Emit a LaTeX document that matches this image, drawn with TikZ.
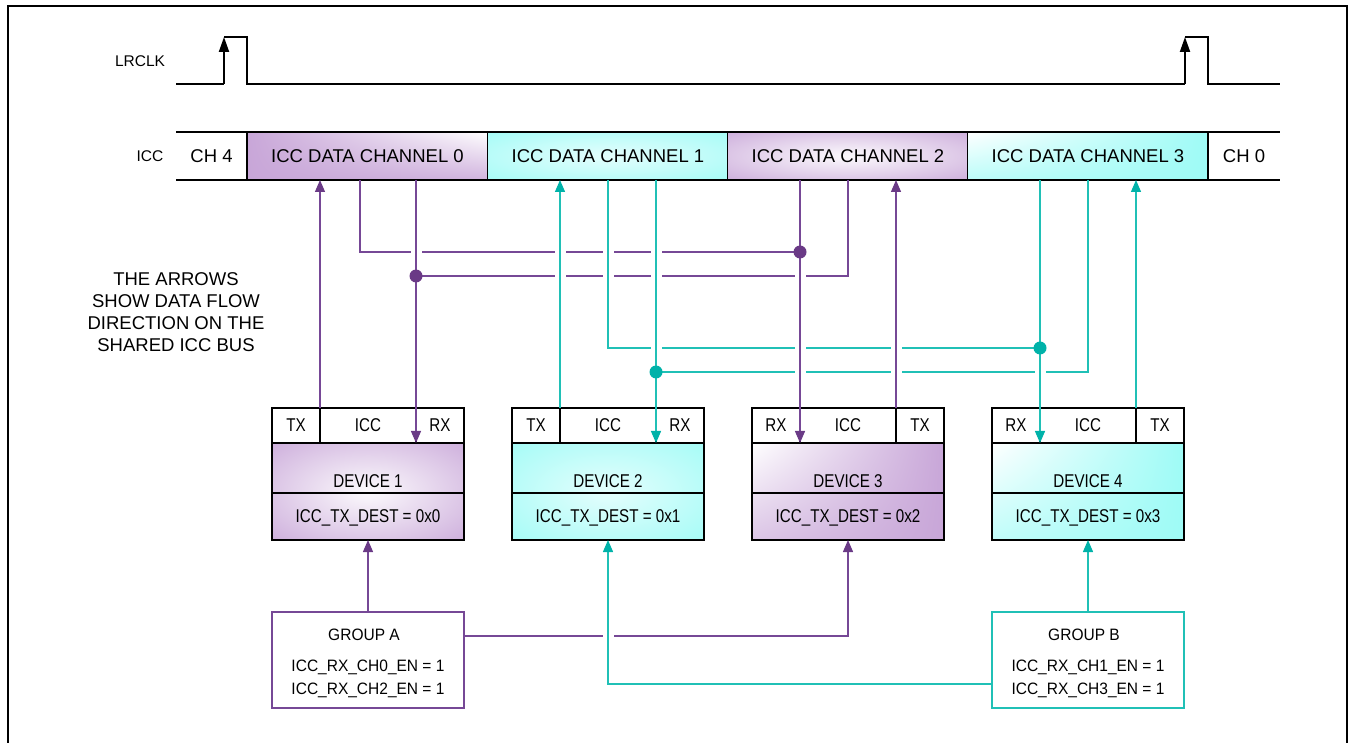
\documentclass[tikz,border=0pt]{standalone}
\usepackage{fontspec}
\setmainfont{Liberation Sans}
\newfontfamily\condfont[FakeStretch=0.82]{Liberation Sans}
\newfontfamily\grpfont[FakeStretch=0.94]{Liberation Sans}
\usetikzlibrary{arrows.meta,calc,shadings}
\definecolor{purpF}{RGB}{200,166,216}
\definecolor{cyanF}{RGB}{158,251,246}
\definecolor{purpL}{RGB}{118,72,150}
\definecolor{purpD}{RGB}{106,58,134}
\definecolor{tealL}{RGB}{32,192,182}
\definecolor{tealD}{RGB}{0,178,169}
\pgfdeclareradialshading{radP}{\pgfpoint{0bp}{0bp}}{color(0bp)=(white!92!purpF); color(4bp)=(white!85!purpF); color(40bp)=(purpF); color(75bp)=(purpF)}
\pgfdeclareradialshading{radC}{\pgfpoint{0bp}{0bp}}{color(0bp)=(white!70!cyanF); color(4bp)=(white!65!cyanF); color(40bp)=(cyanF); color(75bp)=(cyanF)}
\newcommand\mygapx[2]{%
  \fill[white] ($(#1)+(-5.5,-3.2)$) rectangle ($(#1)+(5.5,3.2)$);
  \draw[#2, line width=1.3pt] ($(#1)+(0,-4.5)$) -- ($(#1)+(0,4.5)$);}
\tikzset{
  bx/.style={line width=1.6pt, draw=black},
  chbox/.style={minimum width=241pt, minimum height=48pt, inner sep=0pt, outer sep=0pt, font=\fontsize{18.5}{22}\selectfont},
  cell/.style={draw=black, line width=1.5pt, fill=white, minimum height=35pt, inner sep=0pt, outer sep=0pt, font=\condfont\fontsize{18.5}{20}\selectfont},
  smallcell/.style={cell, minimum width=48pt},
  midcell/.style={cell, minimum width=96pt},
  devbody/.style={draw=black, line width=1.5pt, minimum width=192pt, minimum height=97pt, inner sep=0pt, outer sep=0pt},
  devtxt/.style={inner sep=0pt, text depth=0pt, font=\condfont\fontsize{18.5}{20}\selectfont},
  grpbox/.style={line width=1.2pt, minimum width=192pt, minimum height=96pt, inner sep=0pt, outer sep=0pt},
  grptxt/.style={inner sep=0pt, text depth=0pt, font=\grpfont\fontsize{16.5}{20}\selectfont},
  lbl/.style={inner sep=0pt, text depth=0pt, font=\fontsize{15.5}{18}\selectfont},
  pcon/.style={draw=purpL, line width=1.3pt},
  tcon/.style={draw=tealL, line width=1.3pt},
  parr/.style={pcon, -{Triangle[length=12pt,width=10pt,color=purpD]}},
  tarr/.style={tcon, -{Triangle[length=12pt,width=10pt,color=tealD]}},
  clk/.style={draw=black, line width=1.4pt},
}
\begin{document}
\begin{tikzpicture}[x=1pt,y=-1pt]
\useasboundingbox (0,0) rectangle (1353,743);
% frame
\draw[line width=1.8pt] (8,745) -- (8,6) -- (1347,6) -- (1347,745);

% LRCLK
\node[lbl] (lrlbl) at (140,61) {LRCLK};
\coordinate (lr0) at (176,84);
\coordinate (lr1) at (224,84);
\coordinate (lr2) at (224,37);
\coordinate (lr3) at (247,37);
\coordinate (lr4) at (247,84);
\coordinate (lr5) at (1185,84);
\coordinate (lr6) at (1185,37);
\coordinate (lr7) at (1208,37);
\coordinate (lr8) at (1208,84);
\coordinate (lr9) at (1280,84);
\draw[clk] (lr0) -- (lr1);
\draw[clk] (lr2) -- (lr3) -- (lr4) -- (lr5);
\draw[clk] (lr6) -- (lr7) -- (lr8) -- (lr9);
\draw[clk, line width=2pt, -{Triangle[length=15pt,width=10pt]}] (lr1) -- (lr2);
\draw[clk, line width=2pt, -{Triangle[length=15pt,width=10pt]}] (lr5) -- (lr6);

% ICC row
\node[lbl] (icclbl) at (150,156) {ICC};
\node[chbox, minimum width=71pt] (ch4) at (211.5,156) {CH 4};
\node[chbox, upper left=purpF, lower left=purpF, upper right=white, lower right=white!15!purpF] (ch0) at (367.5,156) {ICC DATA CHANNEL 0};
\node[chbox, shade, shading=radC] (ch1) at (608,156) {ICC DATA CHANNEL 1};
\node[chbox, shade, shading=radP] (ch2) at (848,156) {ICC DATA CHANNEL 2};
\node[chbox, upper left=white, lower left=white!30!cyanF, upper right=cyanF, lower right=cyanF] (ch3) at (1088,156) {ICC DATA CHANNEL 3};
\node[chbox, minimum width=72pt] (chz) at (1244,156) {CH 0};
\draw[bx] (ch4.north west) -- (chz.north east);
\draw[bx] (ch4.south west) -- (chz.south east);
\draw[bx] (ch0.north west) -- (ch0.south west);
\draw[bx] (ch1.north west) -- (ch1.south west);
\draw[bx] (ch2.north west) -- (ch2.south west);
\draw[bx] (ch3.north west) -- (ch3.south west);
\draw[bx] (chz.north west) -- (chz.south west);

% note
\node[align=center, inner sep=0pt, font=\fontsize{18.5}{22}\selectfont] (note) at (176,312) {THE ARROWS\\SHOW DATA FLOW\\DIRECTION ON THE\\SHARED ICC BUS};

% Device 1
\node[devbody, shade, shading=radP] (d1b) at (368,491.5) {};
\draw[bx, line width=1.5pt] (272,493) -- (464,493);
\node[devtxt] (d1n) at (368,481) {DEVICE 1};
\node[devtxt] (d1d) at (368,516.5) {ICC\_TX\_DEST = 0x0};
\node[smallcell] (d1tx) at (296,425.5) {TX};
\node[midcell] (d1icc) at (368,425.5) {ICC};
\node[smallcell] (d1rx) at (440,425.5) {RX};
% Device 2
\node[devbody, shade, shading=radC] (d2b) at (608,491.5) {};
\draw[bx, line width=1.5pt] (512,493) -- (704,493);
\node[devtxt] (d2n) at (608,481) {DEVICE 2};
\node[devtxt] (d2d) at (608,516.5) {ICC\_TX\_DEST = 0x1};
\node[smallcell] (d2tx) at (536,425.5) {TX};
\node[midcell] (d2icc) at (608,425.5) {ICC};
\node[smallcell] (d2rx) at (680,425.5) {RX};
% Device 3
\node[devbody, upper left=white, upper right=purpF, lower left=white!35!purpF, lower right=purpF] (d3b) at (848,491.5) {};
\draw[bx, line width=1.5pt] (752,493) -- (944,493);
\node[devtxt] (d3n) at (848,481) {DEVICE 3};
\node[devtxt] (d3d) at (848,516.5) {ICC\_TX\_DEST = 0x2};
\node[smallcell] (d3rx) at (776,425.5) {RX};
\node[midcell] (d3icc) at (848,425.5) {ICC};
\node[smallcell] (d3tx) at (920,425.5) {TX};
% Device 4
\node[devbody, upper left=white, upper right=cyanF, lower left=white!35!cyanF, lower right=cyanF] (d4b) at (1088,491.5) {};
\draw[bx, line width=1.5pt] (992,493) -- (1184,493);
\node[devtxt] (d4n) at (1088,481) {DEVICE 4};
\node[devtxt] (d4d) at (1088,516.5) {ICC\_TX\_DEST = 0x3};
\node[smallcell] (d4rx) at (1016,425.5) {RX};
\node[midcell] (d4icc) at (1088,425.5) {ICC};
\node[smallcell] (d4tx) at (1160,425.5) {TX};

% Groups
\node[grpbox, draw=purpL] (gA) at (368,660) {};
\node[grptxt] (gAt) at (364,635) {GROUP A};
\node[grptxt] (gA1) at (368,666) {ICC\_RX\_CH0\_EN = 1};
\node[grptxt] (gA2) at (368,689) {ICC\_RX\_CH2\_EN = 1};
\node[grpbox, draw=tealL] (gB) at (1088,660) {};
\node[grptxt] (gBt) at (1084,635) {GROUP B};
\node[grptxt] (gB1) at (1088,666) {ICC\_RX\_CH1\_EN = 1};
\node[grptxt] (gB2) at (1088,689) {ICC\_RX\_CH3\_EN = 1};

% junction coordinates
\coordinate (c0a) at (360,180);
\coordinate (c2a) at (848,180);
\coordinate (c1a) at (608,180);
\coordinate (c3a) at (1088,180);
\coordinate (j1) at (800,252);
\coordinate (j2) at (416,276);
\coordinate (j3) at (1040,348);
\coordinate (j4) at (656,372);

% purple bus connectors
\draw[pcon] (c0a) |- (j1);
\draw[pcon] (c2a) |- (j2);
% teal bus connectors
\draw[tcon] (c1a) |- (j3);
\draw[tcon] (c3a) |- (j4);
% bottom connectors
\draw[parr] ([yshift=24pt]gA.east) -| (d3b.south);
\draw[tarr] ([yshift=-24pt]gB.west) -| (d2b.south);

% crossing gaps on horizontals
\mygapx{416,252}{purpL}
\mygapx{560,252}{tealL}
\mygapx{608,252}{tealL}
\mygapx{656,252}{tealL}
\mygapx{560,276}{tealL}
\mygapx{608,276}{tealL}
\mygapx{656,276}{tealL}
\mygapx{800,276}{purpL}
\mygapx{656,348}{tealL}
\mygapx{800,348}{purpL}
\mygapx{896,348}{purpL}
\mygapx{800,372}{purpL}
\mygapx{896,372}{purpL}
\mygapx{1040,372}{tealL}
\mygapx{608,636}{tealL}

% vertical TX / RX connectors
\draw[parr] (d1tx.north east) -- (d1tx.north east |- ch0.south);
\draw[parr] (ch0.south -| d1rx.west) -- (d1rx.south west);
\draw[parr] (ch2.south -| d3rx.east) -- (d3rx.south east);
\draw[parr] (d3tx.north west) -- (d3tx.north west |- ch2.south);
\draw[tarr] (d2tx.north east) -- (d2tx.north east |- ch1.south);
\draw[tarr] (ch1.south -| d2rx.west) -- (d2rx.south west);
\draw[tarr] (ch3.south -| d4rx.east) -- (d4rx.south east);
\draw[tarr] (d4tx.north west) -- (d4tx.north west |- ch3.south);
\draw[parr] (gA.north) -- (d1b.south);
\draw[tarr] (gB.north) -- (d4b.south);

% junction dots
\fill[purpD] (j1) circle (6.5pt);
\fill[purpD] (j2) circle (6.5pt);
\fill[tealD] (j3) circle (6.5pt);
\fill[tealD] (j4) circle (6.5pt);
\end{tikzpicture}
\end{document}
